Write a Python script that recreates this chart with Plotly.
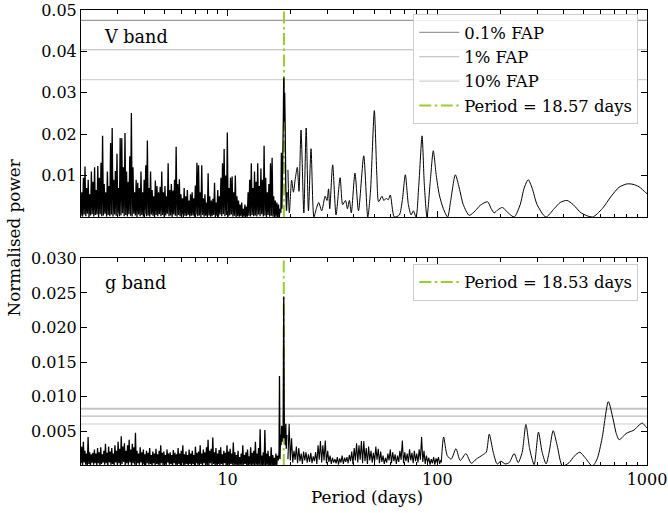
import numpy as np
import plotly.graph_objects as go

FONT = "DejaVu Serif"

# ---------------- data ----------------
PERIOD_MIN, PERIOD_MAX = 2.0, 1000.0
V_YRANGE = [0.0, 0.05]
G_YRANGE = [0.00015, 0.030]

v_best_period = 18.57
g_best_period = 18.53
v_best_label = "Period = 18.57 days"
g_best_label = "Period = 18.53 days"

fap_labels = ["0.1% FAP", "1% FAP", "10% FAP"]
v_fap_levels = [0.0475, 0.0404, 0.0332]
g_fap_levels = [0.00827, 0.00722, 0.00607]

x_major_ticks = [10, 100, 1000]
x_major_labels = ["10", "100", "1000"]
x_minor_ticks = [m * d for d in (1, 10, 100) for m in range(2, 10)]
v_yticks = [0.01, 0.02, 0.03, 0.04, 0.05]
v_ylabels = ["0.01", "0.02", "0.03", "0.04", "0.05"]
g_yticks = [0.005, 0.010, 0.015, 0.020, 0.025, 0.030]
g_ylabels = ["0.005", "0.010", "0.015", "0.020", "0.025", "0.030"]

# V band: dense short-period part (periods 2 .. 17.8 d, log-spaced sampling)
v_noise_power = [
    0.0003, 0.0060, 0.0001, 0.0095, 0.0006, 0.0122, 0.0002, 0.0070, 0.0008, 0.0090, 0.0000, 0.0055, 0.0004, 0.0110, 0.0007, 0.0085, 0.0001, 0.0120, 0.0005, 0.0065,
    0.0006, 0.0123, 0.0000, 0.0095, 0.0007, 0.0131, 0.0002, 0.0196, 0.0004, 0.0080, 0.0008, 0.0060, 0.0001, 0.0110, 0.0005, 0.0075, 0.0002, 0.0179, 0.0006, 0.0215,
    0.0001, 0.0090, 0.0006, 0.0111, 0.0003, 0.0153, 0.0008, 0.0070, 0.0002, 0.0191, 0.0004, 0.0190, 0.0009, 0.0120, 0.0002, 0.0203, 0.0005, 0.0110, 0.0001, 0.0085,
    0.0007, 0.0147, 0.0003, 0.0251, 0.0001, 0.0120, 0.0008, 0.0060, 0.0004, 0.0090, 0.0000, 0.0083, 0.0006, 0.0070, 0.0002, 0.0110, 0.0005, 0.0060, 0.0001, 0.0090,
    0.0007, 0.0125, 0.0002, 0.0185, 0.0004, 0.0070, 0.0001, 0.0110, 0.0006, 0.0065, 0.0003, 0.0050, 0.0000, 0.0088, 0.0005, 0.0075, 0.0002, 0.0060, 0.0007, 0.0073,
    0.0002, 0.0110, 0.0005, 0.0060, 0.0001, 0.0075, 0.0004, 0.0050, 0.0008, 0.0130, 0.0002, 0.0065, 0.0004, 0.0080, 0.0000, 0.0064, 0.0006, 0.0090, 0.0003, 0.0170,
    0.0001, 0.0080, 0.0005, 0.0091, 0.0002, 0.0055, 0.0006, 0.0045, 0.0000, 0.0070, 0.0003, 0.0050, 0.0002, 0.0065, 0.0005, 0.0040, 0.0001, 0.0055, 0.0003, 0.0060,
    0.0004, 0.0045, 0.0001, 0.0076, 0.0006, 0.0131, 0.0002, 0.0125, 0.0004, 0.0060, 0.0000, 0.0125, 0.0005, 0.0045, 0.0001, 0.0055, 0.0003, 0.0035, 0.0000, 0.0106,
    0.0004, 0.0050, 0.0001, 0.0040, 0.0002, 0.0044, 0.0005, 0.0083, 0.0000, 0.0035, 0.0003, 0.0065, 0.0001, 0.0050, 0.0006, 0.0095, 0.0002, 0.0130, 0.0007, 0.0164,
    0.0002, 0.0100, 0.0005, 0.0204, 0.0001, 0.0070, 0.0004, 0.0095, 0.0006, 0.0098, 0.0001, 0.0060, 0.0003, 0.0100, 0.0000, 0.0050, 0.0002, 0.0040, 0.0001, 0.0030,
    0.0002, 0.0035, 0.0000, 0.0020, 0.0001, 0.0030, 0.0000, 0.0025, 0.0001, 0.0060, 0.0003, 0.0090, 0.0001, 0.0130, 0.0005, 0.0070, 0.0002, 0.0110, 0.0004, 0.0085,
    0.0001, 0.0130, 0.0006, 0.0075, 0.0002, 0.0117, 0.0007, 0.0090, 0.0001, 0.0172, 0.0004, 0.0095, 0.0000, 0.0060, 0.0005, 0.0080, 0.0001, 0.0130, 0.0003, 0.0143,
    0.0001, 0.0050, 0.0000, 0.0040, 0.0001, 0.0035, 0.0000, 0.0030, 0.0000, 0.0020,
]
v_noise_start, v_noise_end = 2.0, 17.8

# V band: main peak
v_peak_period = [17.95, 18.05, 18.15, 18.3, 18.45, 18.52, 18.57, 18.63, 18.72, 18.82, 18.95, 19.1, 19.25]
v_peak_power = [0.0010, 0.0155, 0.0020, 0.0120, 0.0240, 0.0330, 0.0337, 0.0230, 0.0300, 0.0220, 0.0070, 0.0015, 0.0060]

# V band: long-period part
v_long_period = [19.4, 19.7, 20.2, 20.6, 21.0, 21.5, 21.9, 22.4, 23.1, 23.7, 24.3, 25.0, 25.8, 26.5,
                 27.2, 28.1, 29.2, 29.8, 30.3, 30.7, 31.7, 32.9, 34.4, 35.4, 36.5, 37.3, 38.1, 38.9,
                 40.5, 42.1, 44.6, 46.6, 48.0, 50.1, 51.5, 52.5, 54.5, 55.6, 57.0, 58.4, 59.7, 62.4,
                 65.9, 68.1, 70.4, 72.8, 75.0, 76.9, 79.2, 81.7, 84.6, 86.7, 89.3, 92.7, 95.7, 98.9,
                 102.3, 106.9, 112.0, 115.9, 121.9, 127.3, 133.0, 142.0, 151.7, 160.0, 173.6, 180.8,
                 186.7, 195.0, 204.6, 217.8, 232.6, 248.5, 259.5, 271.2, 283.3, 299.2, 329.4, 360.6,
                 385.4, 414.9, 444.6, 485.3, 549.5, 611.2, 674.5, 736.2, 803.5, 857.7, 916.2, 986.2, 1023.0]
v_long_power = [0.0114, 0.0010, 0.0089, 0.0060, 0.0090, 0.0120, 0.0062, 0.0210, 0.0010, 0.0215, 0.0015, 0.0165, 0.0000, 0.0020,
                0.0035, 0.0015, 0.0050, 0.0040, 0.0068, 0.0020, 0.0126, 0.0005, 0.0095, 0.0030, 0.0040, 0.0020, 0.0040, 0.0010,
                0.0106, 0.0015, 0.0148, 0.0000, 0.0060, 0.0257, 0.0100, 0.0037, 0.0050, 0.0040, 0.0045, 0.0042, 0.0053, 0.0000,
                0.0005, 0.0040, 0.0102, 0.0030, 0.0005, 0.0015, 0.0000, 0.0080, 0.0196, 0.0080, 0.0000, 0.0090, 0.0160, 0.0100,
                0.0053, 0.0020, 0.0000, 0.0040, 0.0102, 0.0070, 0.0030, 0.0004, 0.0015, 0.0028, 0.0037, 0.0020,
                0.0010, 0.0018, 0.0023, 0.0010, 0.0000, 0.0030, 0.0070, 0.0090, 0.0070, 0.0030, 0.0000, 0.0020,
                0.0035, 0.0040, 0.0030, 0.0010, 0.0000, 0.0020, 0.0050, 0.0072, 0.0080, 0.0079, 0.0073, 0.0059, 0.0052]

# g band: dense short-period part (periods 2 .. 17.3 d)
g_noise1_power = [
    0.0004, 0.0028, 0.0001, 0.0035, 0.0005, 0.0022, 0.0002, 0.0018, 0.0000, 0.0042, 0.0003, 0.0020, 0.0001, 0.0017, 0.0005, 0.0019, 0.0002, 0.0024, 0.0004, 0.0018,
    0.0001, 0.0026, 0.0004, 0.0020, 0.0000, 0.0027, 0.0003, 0.0017, 0.0005, 0.0022, 0.0002, 0.0032, 0.0004, 0.0019, 0.0000, 0.0028, 0.0005, 0.0021, 0.0002, 0.0026,
    0.0003, 0.0018, 0.0001, 0.0030, 0.0005, 0.0022, 0.0002, 0.0035, 0.0004, 0.0025, 0.0000, 0.0043, 0.0003, 0.0028, 0.0006, 0.0033, 0.0001, 0.0022, 0.0004, 0.0030,
    0.0002, 0.0038, 0.0005, 0.0024, 0.0001, 0.0032, 0.0004, 0.0027, 0.0002, 0.0048, 0.0000, 0.0022, 0.0004, 0.0018, 0.0002, 0.0027, 0.0005, 0.0020, 0.0001, 0.0024,
    0.0003, 0.0017, 0.0001, 0.0022, 0.0004, 0.0019, 0.0002, 0.0026, 0.0003, 0.0016, 0.0000, 0.0021, 0.0004, 0.0018, 0.0001, 0.0025, 0.0003, 0.0017, 0.0002, 0.0022,
    0.0000, 0.0030, 0.0004, 0.0019, 0.0001, 0.0021, 0.0003, 0.0016, 0.0001, 0.0024, 0.0005, 0.0018, 0.0002, 0.0020, 0.0003, 0.0016, 0.0000, 0.0023, 0.0004, 0.0019,
    0.0002, 0.0017, 0.0001, 0.0026, 0.0003, 0.0018, 0.0001, 0.0022, 0.0004, 0.0030, 0.0000, 0.0017, 0.0002, 0.0021, 0.0003, 0.0016, 0.0000, 0.0024, 0.0003, 0.0018,
    0.0001, 0.0022, 0.0003, 0.0016, 0.0000, 0.0028, 0.0004, 0.0019, 0.0002, 0.0021, 0.0001, 0.0030, 0.0003, 0.0018, 0.0001, 0.0024, 0.0004, 0.0020, 0.0000, 0.0027,
    0.0002, 0.0038, 0.0001, 0.0022, 0.0004, 0.0025, 0.0001, 0.0041, 0.0003, 0.0020, 0.0000, 0.0026, 0.0002, 0.0018, 0.0003, 0.0023, 0.0000, 0.0027, 0.0003, 0.0017,
    0.0001, 0.0022, 0.0004, 0.0019, 0.0000, 0.0030, 0.0002, 0.0021, 0.0001, 0.0025, 0.0003, 0.0018, 0.0002, 0.0034, 0.0000, 0.0020, 0.0002, 0.0016, 0.0001, 0.0022,
    0.0001, 0.0013, 0.0002, 0.0018, 0.0000, 0.0030, 0.0002, 0.0016, 0.0003, 0.0020, 0.0000, 0.0024, 0.0001, 0.0014, 0.0002, 0.0027, 0.0000, 0.0019, 0.0002, 0.0022,
    0.0001, 0.0035, 0.0002, 0.0018, 0.0000, 0.0026, 0.0002, 0.0053, 0.0000, 0.0015, 0.0001, 0.0020, 0.0001, 0.0052, 0.0000, 0.0018, 0.0002, 0.0022, 0.0000, 0.0014,
    0.0001, 0.0027, 0.0000, 0.0016, 0.0001, 0.0012, 0.0000, 0.0018, 0.0001, 0.0015,
]
g_noise1_start, g_noise1_end = 2.0, 17.3

# g band: main peak region
g_peak_period = [17.45, 17.6, 17.68, 17.78, 17.9, 18.0, 18.1, 18.2, 18.3, 18.4, 18.53, 18.65, 18.75, 18.85, 18.95, 19.05, 19.2]
g_peak_power = [0.0008, 0.0020, 0.0130, 0.0010, 0.0045, 0.0030, 0.0058, 0.0035, 0.0057, 0.0040, 0.0245, 0.0040, 0.0055, 0.0030, 0.0061, 0.0025, 0.0045]

# g band: intermediate noisy part (periods 19.4 .. 104 d)
g_noise2_power = [
    0.0010, 0.0061, 0.0008, 0.0040, 0.0005, 0.0022, 0.0009, 0.0028, 0.0004, 0.0026, 0.0007, 0.0018, 0.0003, 0.0021, 0.0008, 0.0020, 0.0005, 0.0017, 0.0006, 0.0019,
    0.0004, 0.0014, 0.0007, 0.0020, 0.0003, 0.0030, 0.0009, 0.0036, 0.0005, 0.0030, 0.0008, 0.0037, 0.0004, 0.0022, 0.0006, 0.0015, 0.0003, 0.0012, 0.0005, 0.0010,
    0.0004, 0.0013, 0.0002, 0.0011, 0.0005, 0.0015, 0.0003, 0.0012, 0.0006, 0.0013, 0.0004, 0.0016, 0.0007, 0.0021, 0.0003, 0.0026, 0.0008, 0.0033, 0.0005, 0.0030,
    0.0009, 0.0036, 0.0004, 0.0036, 0.0007, 0.0026, 0.0003, 0.0028, 0.0008, 0.0022, 0.0005, 0.0019, 0.0006, 0.0028, 0.0009, 0.0025, 0.0004, 0.0021, 0.0006, 0.0015,
    0.0003, 0.0012, 0.0005, 0.0018, 0.0008, 0.0024, 0.0004, 0.0020, 0.0007, 0.0017, 0.0003, 0.0015, 0.0006, 0.0022, 0.0009, 0.0037, 0.0004, 0.0020, 0.0007, 0.0018,
    0.0005, 0.0024, 0.0008, 0.0019, 0.0004, 0.0022, 0.0007, 0.0018, 0.0005, 0.0024, 0.0009, 0.0042, 0.0006, 0.0022, 0.0003, 0.0015, 0.0005, 0.0012, 0.0002, 0.0010,
    0.0004, 0.0013, 0.0002, 0.0011, 0.0005, 0.0013, 0.0003, 0.0009,
]
g_noise2_start, g_noise2_end = 19.4, 104.0

# g band: long-period part
g_long_period = [104.5, 107.2, 111.6, 116.6, 122.7, 128.7, 136.9, 145.2, 153.4, 164.4, 171.2, 176.9, 184.8,
                 193.1, 201.1, 210.8, 220.3, 232.6, 243.0, 254.0, 264.5, 275.7, 289.6, 303.7, 316.2, 330.4,
                 341.5, 356.8, 372.8, 395.2, 425.3, 449.2, 478.1, 506.8, 549.0, 578.1, 610.6, 654.3, 688.9,
                 712.0, 735.6, 760.3, 794.3, 820.9, 867.3, 916.1, 949.8, 985.8, 1022.0]
g_long_power = [0.0005, 0.0042, 0.0015, 0.0010, 0.0025, 0.0008, 0.0018, 0.0004, 0.0010, 0.0016, 0.0020, 0.0046, 0.0020,
                0.0003, 0.0007, 0.0003, 0.0005, 0.0018, 0.0005, 0.0020, 0.0060, 0.0025, 0.0002, 0.0049, 0.0020, 0.0003,
                0.0020, 0.0051, 0.0030, 0.0000, 0.0005, 0.0014, 0.0020, 0.0012, 0.0000, 0.0010, 0.0040, 0.0093, 0.0068,
                0.0048, 0.0038, 0.0041, 0.0047, 0.0049, 0.0052, 0.0059, 0.0062, 0.0057, 0.0052]

# ---------------- figure ----------------
fap_colors = ["#9a9a9a", "#b8b8b8", "#d2d2d2"]
g_fap_colors = ["#c4c4c4", "#bdbdbd", "#d0d0d0"]
g_fap_widths = [2, 1.2, 1.2]
GREEN = "#9acd32"
DASHDOT = "12px,3.5px,2.5px,3.5px"

fig = go.Figure()

for lab, lev, col in zip(fap_labels, v_fap_levels, fap_colors):
    fig.add_trace(go.Scatter(x=[PERIOD_MIN * 0.9, PERIOD_MAX * 1.1], y=[lev, lev], mode="lines",
                             line=dict(color=col, width=1.2), name=lab, legend="legend",
                             xaxis="x", yaxis="y"))
for lab, lev, col, w in zip(fap_labels, g_fap_levels, g_fap_colors, g_fap_widths):
    fig.add_trace(go.Scatter(x=[PERIOD_MIN * 0.9, PERIOD_MAX * 1.1], y=[lev, lev], mode="lines",
                             line=dict(color=col, width=w), name=lab, showlegend=False,
                             xaxis="x2", yaxis="y2"))

# best-period markers (drawn beneath the periodograms)
fig.add_trace(go.Scatter(x=[v_best_period, v_best_period], y=V_YRANGE, mode="lines",
                         line=dict(color=GREEN, width=2, dash=DASHDOT), name=v_best_label,
                         legend="legend", xaxis="x", yaxis="y"))
fig.add_trace(go.Scatter(x=[g_best_period, g_best_period], y=[0, G_YRANGE[1]], mode="lines",
                         line=dict(color=GREEN, width=2, dash=DASHDOT), name=g_best_label,
                         legend="legend2", xaxis="x2", yaxis="y2"))

line_k = dict(color="black", width=1.3, simplify=False)
line_s = dict(color="black", width=1, shape="spline", smoothing=0.7, simplify=False)

# V periodogram
fig.add_trace(go.Scatter(x=np.geomspace(v_noise_start, v_noise_end, len(v_noise_power)), y=v_noise_power,
                         mode="lines", line=line_k, showlegend=False, xaxis="x", yaxis="y"))
fig.add_trace(go.Scatter(x=v_peak_period, y=v_peak_power, mode="lines", line=line_k,
                         showlegend=False, xaxis="x", yaxis="y"))
fig.add_trace(go.Scatter(x=v_long_period, y=v_long_power, mode="lines", line=line_s,
                         showlegend=False, xaxis="x", yaxis="y"))

# g periodogram
fig.add_trace(go.Scatter(x=np.geomspace(g_noise1_start, g_noise1_end, len(g_noise1_power)), y=g_noise1_power,
                         mode="lines", line=line_k, showlegend=False, xaxis="x2", yaxis="y2"))
fig.add_trace(go.Scatter(x=g_peak_period, y=g_peak_power, mode="lines", line=line_k,
                         showlegend=False, xaxis="x2", yaxis="y2"))
fig.add_trace(go.Scatter(x=np.geomspace(g_noise2_start, g_noise2_end, len(g_noise2_power)), y=g_noise2_power,
                         mode="lines", line=dict(color="black", width=1.1, simplify=False),
                         showlegend=False, xaxis="x2", yaxis="y2"))
fig.add_trace(go.Scatter(x=g_long_period, y=g_long_power, mode="lines", line=line_s,
                         showlegend=False, xaxis="x2", yaxis="y2"))

tickfont = dict(family=FONT, size=16, color="black")
xcommon = dict(type="log", range=[np.log10(PERIOD_MIN), np.log10(PERIOD_MAX)], automargin=False,
               showline=True, linecolor="black", linewidth=1, mirror="allticks",
               ticks="inside", ticklen=6, tickwidth=1, tickcolor="black",
               tickmode="array", tickvals=x_major_ticks, ticktext=x_major_labels,
               minor=dict(tickmode="array", tickvals=x_minor_ticks, ticks="inside",
                          ticklen=3.5, tickwidth=1, tickcolor="black", showgrid=False),
               showgrid=False, zeroline=False, tickfont=tickfont)
ycommon = dict(showline=True, linecolor="black", linewidth=1, mirror="allticks", automargin=False,
               ticks="inside", ticklen=6, tickwidth=1, tickcolor="black",
               showgrid=False, zeroline=False, tickfont=tickfont, tickmode="array")

legend_style = dict(bgcolor="rgba(255,255,255,0.85)", bordercolor="#cccccc", borderwidth=1,
                    font=dict(family=FONT, size=16.4, color="black"), itemwidth=40,
                    xanchor="right", yanchor="top", x=0.9846)

fig.update_layout(
    width=668, height=513,
    margin=dict(l=81, r=21, t=10, b=48, autoexpand=False),
    paper_bgcolor="white", plot_bgcolor="white",
    font=dict(family=FONT, size=16, color="black"),
    xaxis=dict(xcommon, domain=[0, 1], anchor="y", showticklabels=False),
    yaxis=dict(ycommon, domain=[0.545, 1], anchor="x", range=V_YRANGE,
               tickvals=v_yticks, ticktext=v_ylabels),
    xaxis2=dict(xcommon, domain=[0, 1], anchor="y2"),
    yaxis2=dict(ycommon, domain=[0, 0.4543], anchor="x2", range=G_YRANGE,
                tickvals=g_yticks, ticktext=g_ylabels),
    legend=dict(legend_style, y=0.9906),
    legend2=dict(legend_style, y=0.4420),
    annotations=[
        dict(text="V band", xref="paper", yref="paper", x=0.0366, y=0.9407, xanchor="left",
             yanchor="middle", showarrow=False, font=dict(family=FONT, size=17.6, color="black")),
        dict(text="g band", xref="paper", yref="paper", x=0.0383, y=0.40, xanchor="left",
             yanchor="middle", showarrow=False, font=dict(family=FONT, size=17.6, color="black")),
        dict(text="Normalised power", xref="paper", yref="paper", x=-0.1184, y=0.50,
             xanchor="center", yanchor="middle", textangle=-90, showarrow=False,
             font=dict(family=FONT, size=16.8, color="black")),
        dict(text="Period (days)", xref="paper", yref="paper", x=0.505, y=-0.0703,
             xanchor="center", yanchor="middle", showarrow=False,
             font=dict(family=FONT, size=16.8, color="black")),
    ],
)

fig.write_html("out.html")
